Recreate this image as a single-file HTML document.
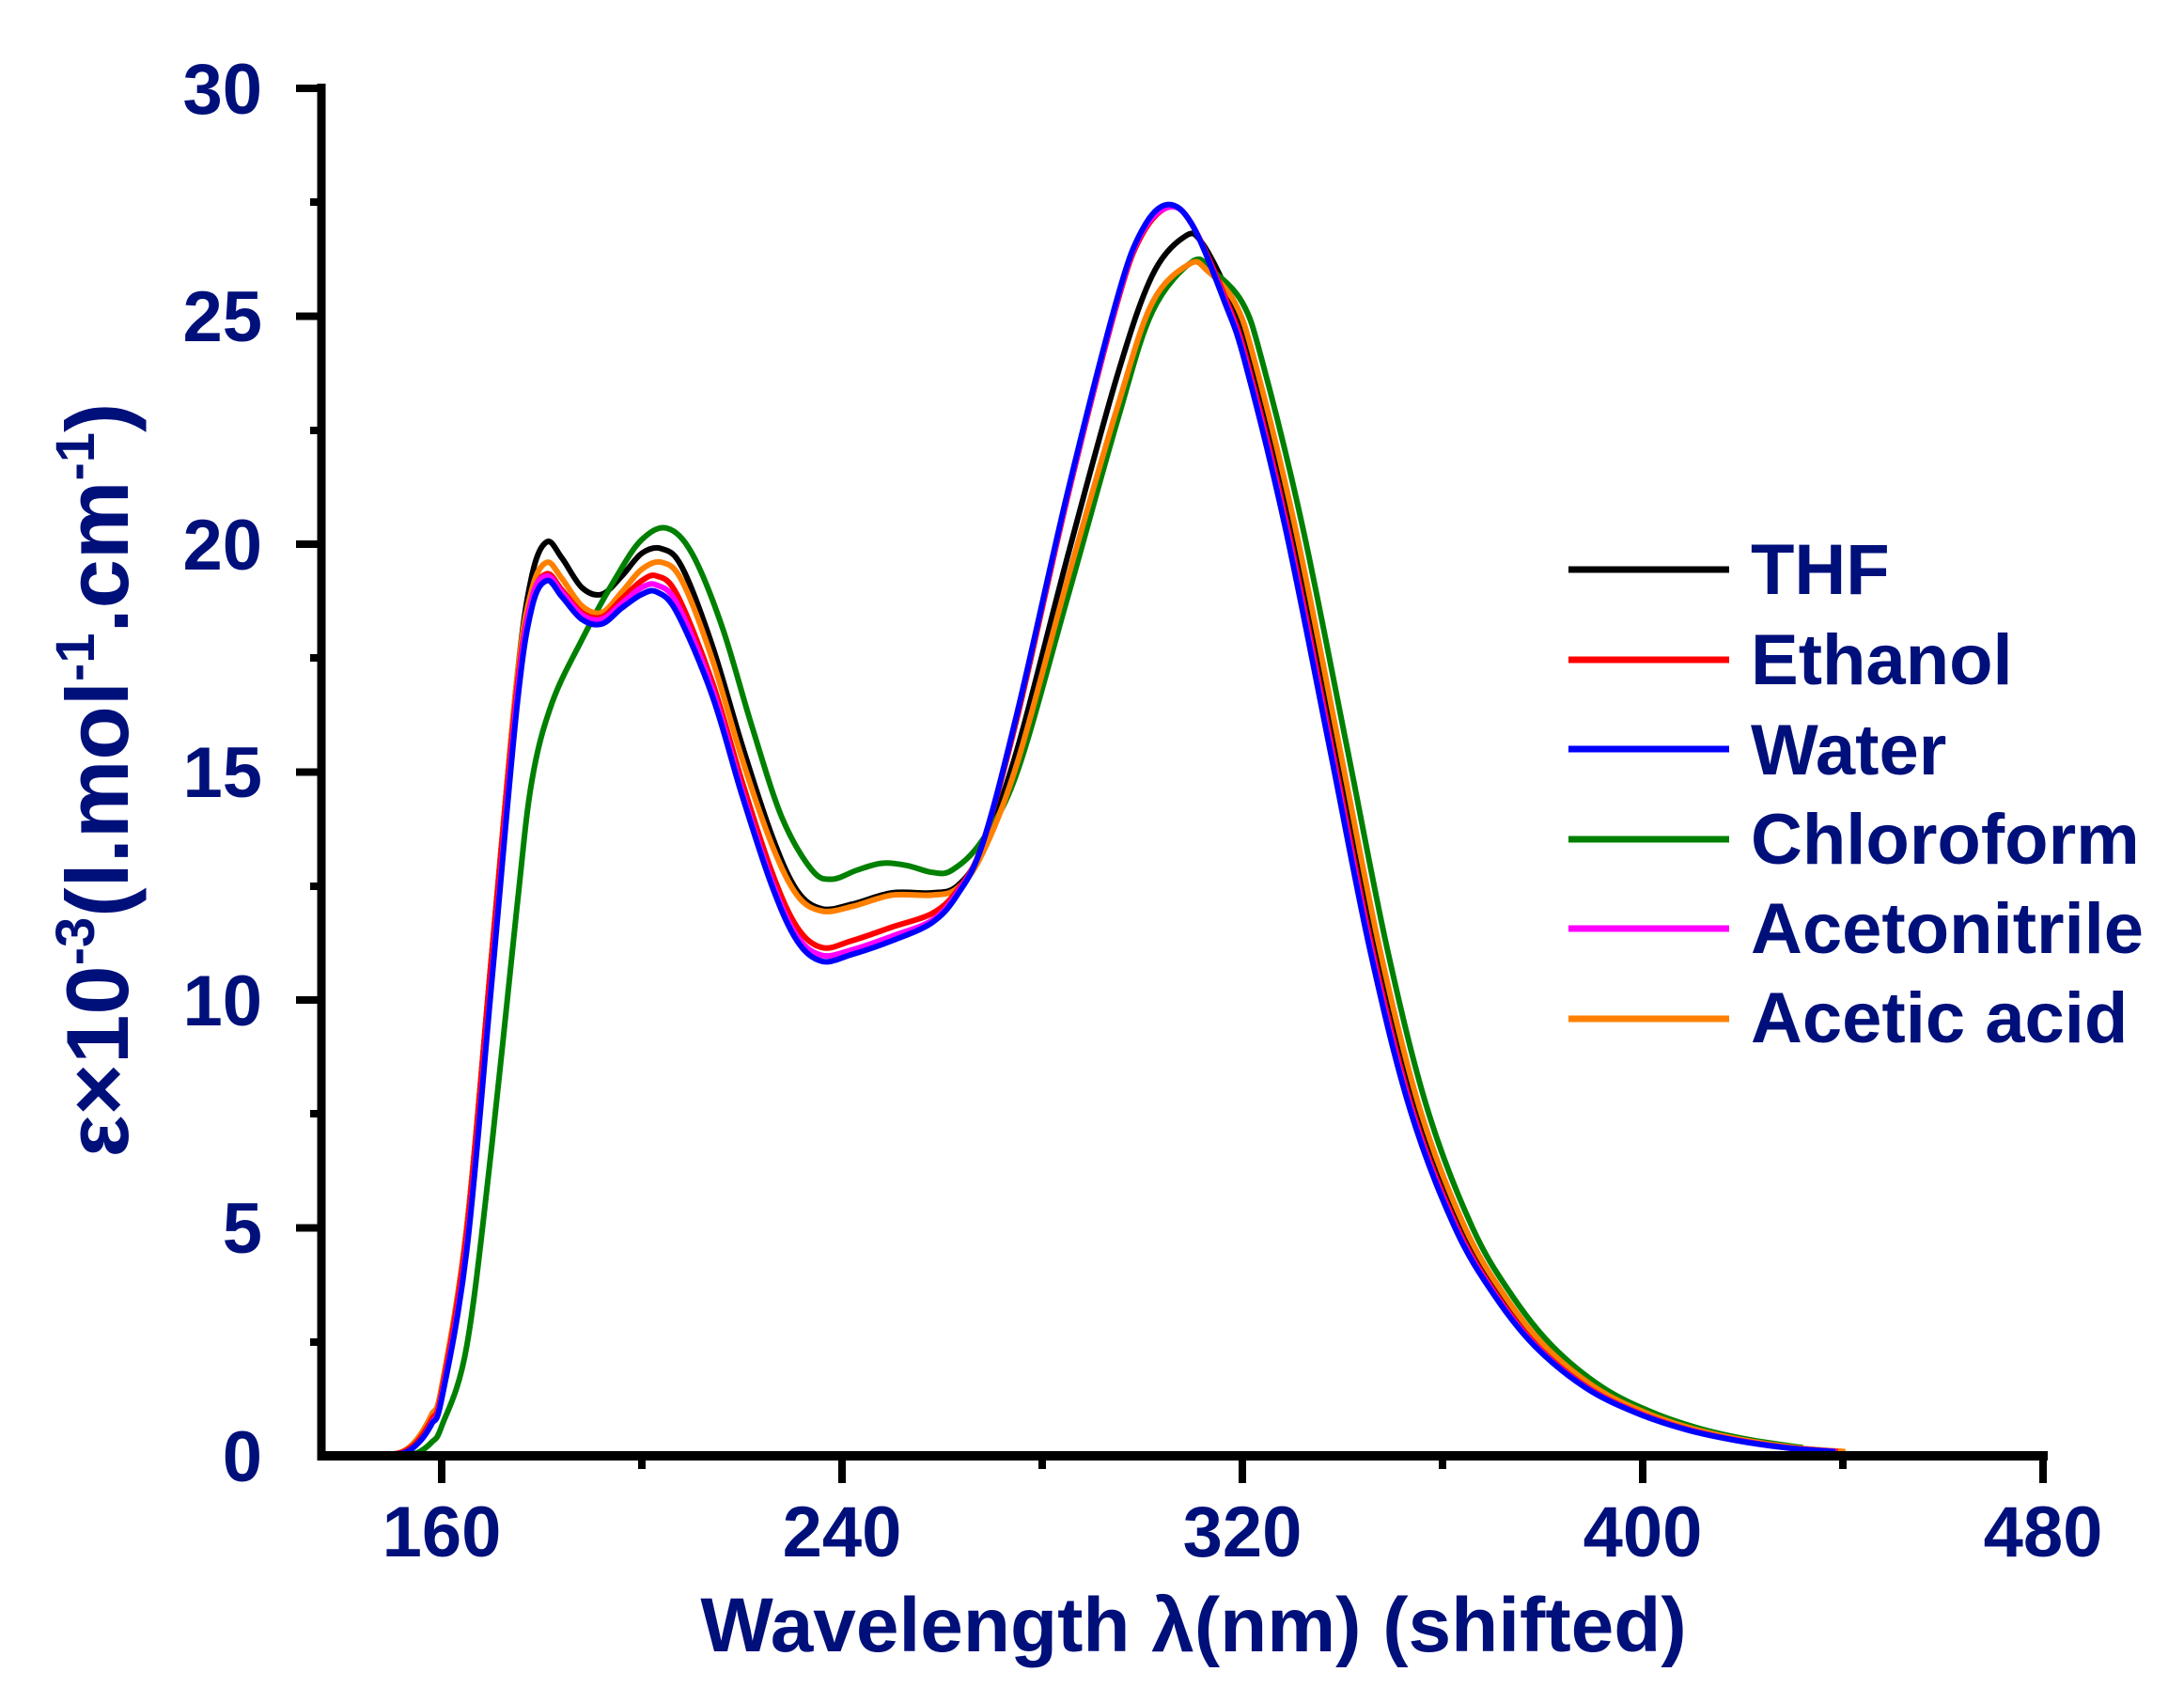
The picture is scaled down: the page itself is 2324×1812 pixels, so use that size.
<!DOCTYPE html>
<html><head><meta charset="utf-8">
<style>
html,body{margin:0;padding:0;background:#fff;}
svg{display:block;}
text{font-family:"Liberation Sans",Arial,sans-serif;font-weight:bold;fill:#00107a;}
</style></head>
<body>
<svg id="s" width="2324" height="1812" viewBox="0 0 2324 1812" xmlns="http://www.w3.org/2000/svg">
<g id="curves" fill="none" stroke-width="6" stroke-linejoin="round" stroke-linecap="butt"></g>
<g stroke="#000" fill="none">
<line x1="342" y1="89" x2="342" y2="1554" stroke-width="9"/>
<line x1="338" y1="1549" x2="2179" y2="1549" stroke-width="10"/>
<g stroke-width="8">
<line x1="315" y1="94" x2="342" y2="94"/>
<line x1="315" y1="336.5" x2="342" y2="336.5"/>
<line x1="315" y1="579" x2="342" y2="579"/>
<line x1="315" y1="821.5" x2="342" y2="821.5"/>
<line x1="315" y1="1064" x2="342" y2="1064"/>
<line x1="315" y1="1306.5" x2="342" y2="1306.5"/>
<line x1="330" y1="215" x2="342" y2="215"/>
<line x1="330" y1="458" x2="342" y2="458"/>
<line x1="330" y1="700" x2="342" y2="700"/>
<line x1="330" y1="943" x2="342" y2="943"/>
<line x1="330" y1="1185" x2="342" y2="1185"/>
<line x1="330" y1="1428" x2="342" y2="1428"/>
</g>
<g stroke-width="8">
<line x1="470" y1="1549" x2="470" y2="1578"/>
<line x1="896" y1="1549" x2="896" y2="1578"/>
<line x1="1322" y1="1549" x2="1322" y2="1578"/>
<line x1="1748" y1="1549" x2="1748" y2="1578"/>
<line x1="2174" y1="1549" x2="2174" y2="1578"/>
<line x1="683" y1="1549" x2="683" y2="1563"/>
<line x1="1109" y1="1549" x2="1109" y2="1563"/>
<line x1="1535" y1="1549" x2="1535" y2="1563"/>
<line x1="1961" y1="1549" x2="1961" y2="1563"/>
</g>
</g>
<g font-size="76" text-anchor="end">
<text x="279" y="121">30</text>
<text x="279" y="363">25</text>
<text x="279" y="606">20</text>
<text x="279" y="848">15</text>
<text x="279" y="1091">10</text>
<text x="279" y="1333">5</text>
<text x="279" y="1576">0</text>
</g>
<g font-size="76" text-anchor="middle">
<text x="470" y="1656">160</text>
<text x="896" y="1656">240</text>
<text x="1322" y="1656">320</text>
<text x="1748" y="1656">400</text>
<text x="2174" y="1656">480</text>
</g>
<text x="1270" y="1757" font-size="82" text-anchor="middle">Wavelength λ(nm) (shifted)</text>
<text transform="translate(136,830) rotate(-90)" font-size="94" text-anchor="middle">ε×10<tspan font-size="58" dy="-36">-3</tspan><tspan dy="36">(l.mol</tspan><tspan font-size="58" dy="-36">-1</tspan><tspan dy="36">.cm</tspan><tspan font-size="58" dy="-36">-1</tspan><tspan dy="36">)</tspan></text>
<g stroke-width="7">
<line x1="1669" y1="606" x2="1840" y2="606" stroke="#000"/>
<line x1="1669" y1="702" x2="1840" y2="702" stroke="#ff0000"/>
<line x1="1669" y1="797" x2="1840" y2="797" stroke="#0000ff"/>
<line x1="1669" y1="893" x2="1840" y2="893" stroke="#008000"/>
<line x1="1669" y1="988" x2="1840" y2="988" stroke="#ff00ff"/>
<line x1="1669" y1="1084" x2="1840" y2="1084" stroke="#ff8000"/>
</g>
<g font-size="76">
<text x="1863" y="632">THF</text>
<text x="1863" y="728">Ethanol</text>
<text x="1863" y="824">Water</text>
<text x="1863" y="919">Chloroform</text>
<text x="1863" y="1014">Acetonitrile</text>
<text x="1863" y="1109">Acetic acid</text>
</g>
</svg>
<script>
(function(){
function X(v){return 470+(v-160)*5.325;}
function Y(e){return 1549-e*48.5;}
var tail=[[318,25.3],[322,24],[330,20.4],[339,15.5],[347,11.1],[355,7.6],[364,5],[372,3.5],[380,2.4],[390,1.5],[400,0.95],[410,0.58],[420,0.34],[430,0.18],[440,0.09]];
function T(s){return tail.map(function(p){return [p[0]+s,p[1]];}).filter(function(p){return p[0]<=440.5;});}
var S={
"#000000":[[136,0],[148,0],[152,0.08],[155,0.35],[158,0.9],[160,1.5],[165,5],[170,11],[175,17],[178,19.3],[181,20.05],[184,19.7],[188,19.05],[192,18.9],[196,19.3],[200,19.8],[204,19.9],[208,19.5],[214,17.8],[220,15.6],[226,13.6],[231,12.4],[236,12.0],[242,12.1],[250,12.35],[258,12.35],[263,12.5],[268,13.3],[275,15.5],[285,19.7],[295,23.7],[302,25.9],[308.5,26.75],[312,26.6]].concat(T(0)),
"#ff0000":[[136,0],[148,0],[152,0.07],[155,0.3],[158,0.8],[160,1.4],[165,4.9],[170,11],[175,16.8],[178,18.8],[181,19.35],[184,19.0],[188,18.5],[192,18.4],[196,18.8],[200,19.2],[203,19.3],[207,18.9],[214,17.0],[220,14.8],[226,12.8],[231,11.6],[236,11.15],[242,11.3],[250,11.6],[258,11.9],[263,12.4],[268,13.4],[275,16.2],[285,21],[295,25.3],[300,26.8],[305.5,27.4],[310,27.0]].concat(T(-1)),
"#0000ff":[[136,0],[148.5,0],[152.5,0.06],[155.5,0.3],[158,0.7],[160,1.25],[165,4.5],[170,10.4],[175,16.4],[178,18.6],[181,19.2],[184,18.85],[188,18.35],[192,18.25],[196,18.6],[200,18.9],[203,18.95],[207,18.5],[214,16.7],[220,14.5],[226,12.5],[231,11.3],[236,10.85],[242,11.0],[250,11.3],[258,11.7],[263,12.3],[268,13.4],[275,16.3],[285,21.1],[295,25.4],[300,26.9],[305,27.45],[310,27.0]].concat(T(-1.5)),
"#008000":[[136,0],[151,0],[155,0.06],[158,0.3],[160,0.65],[165,2.4],[170,6.8],[175,12],[178,14.8],[182,16.5],[188,17.9],[195,19.3],[200,20.1],[205,20.35],[210,19.8],[216,18.2],[222,16.0],[228,14.0],[234,12.85],[238,12.65],[243,12.85],[248,13.0],[253,12.95],[258,12.8],[262,12.85],[268,13.5],[275,15.0],[285,18.8],[295,22.7],[302,25.1],[310,26.2],[314,26.0]].concat(T(2)),
"#ff00ff":[[136,0],[148.5,0],[152.5,0.06],[155.5,0.3],[158,0.72],[160,1.3],[165,4.6],[170,10.5],[175,16.6],[178,18.8],[181,19.3],[184,18.95],[188,18.45],[192,18.35],[196,18.7],[200,19.05],[203,19.1],[207,18.7],[214,16.85],[220,14.6],[226,12.6],[231,11.4],[236,10.98],[242,11.1],[250,11.4],[258,11.75],[263,12.35],[268,13.4],[275,16.3],[285,21.05],[295,25.35],[300,26.85],[305.5,27.4],[310,27.0]].concat(T(-1.3)),
"#ff8000":[[136,0],[148,0],[152,0.08],[155,0.35],[158,0.9],[160,1.5],[165,5],[170,11],[175,17],[178,19.0],[181,19.6],[184,19.25],[188,18.65],[192,18.5],[196,18.95],[200,19.45],[204,19.6],[208,19.2],[214,17.5],[220,15.3],[226,13.4],[231,12.3],[236,11.95],[242,12.05],[250,12.3],[258,12.3],[263,12.45],[268,13.2],[275,15.2],[285,19.2],[295,23.0],[302,25.3],[309.5,26.15],[313,26.0]].concat(T(0.5))
};
var order=["#000000","#008000","#ff8000","#ff0000","#ff00ff","#0000ff"];
var g=document.getElementById("curves");
order.forEach(function(c){
var p=S[c];p.sort(function(a,b){return a[0]-b[0];});
var pts=p.map(function(q){return [X(q[0]),Y(q[1])];});
var d="M"+pts[0][0].toFixed(1)+","+pts[0][1].toFixed(1);
for(var i=0;i<pts.length-1;i++){
var p0=pts[Math.max(0,i-1)],p1=pts[i],p2=pts[i+1],p3=pts[Math.min(pts.length-1,i+2)];
var c1x=p1[0]+(p2[0]-p0[0])/6,c1y=p1[1]+(p2[1]-p0[1])/6;
var c2x=p2[0]-(p3[0]-p1[0])/6,c2y=p2[1]-(p3[1]-p1[1])/6;
c1y=Math.min(c1y,1547);c2y=Math.min(c2y,1547);
d+=" C"+c1x.toFixed(1)+","+c1y.toFixed(1)+" "+c2x.toFixed(1)+","+c2y.toFixed(1)+" "+p2[0].toFixed(1)+","+p2[1].toFixed(1);
}
var e=document.createElementNS("http://www.w3.org/2000/svg","path");
e.setAttribute("d",d);e.setAttribute("stroke",c);
g.appendChild(e);
});
})();
</script>
</body></html>
